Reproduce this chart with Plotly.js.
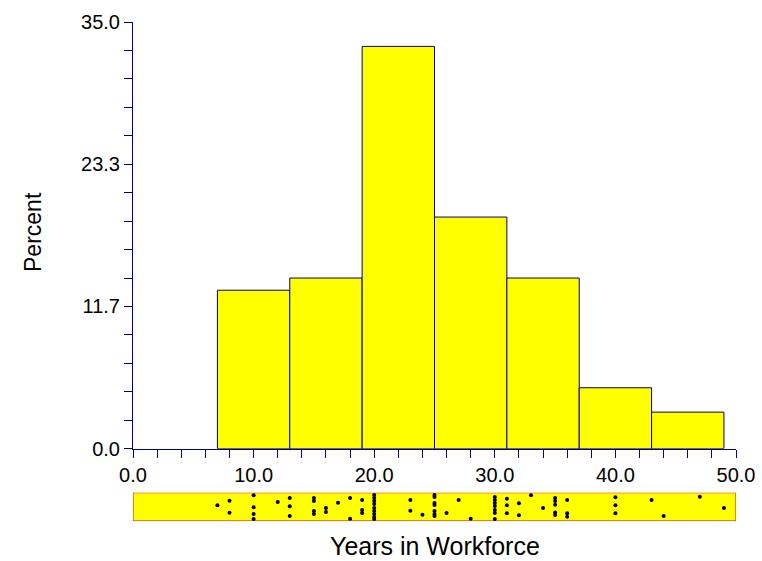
<!DOCTYPE html>
<html>
<head>
<meta charset="utf-8">
<script src="https://cdn.plot.ly/plotly-3.0.1.min.js"></script>
<style>html,body{margin:0;padding:0;background:#fff;}#chart{width:762px;height:561px;}</style>
</head>
<body>
<div id="chart"></div>
<script>
// Histogram bins (years) and percentages
const binCenters = [10, 16, 22, 28, 34, 40, 46];
const binWidth = 6;
const percents = [13.0, 14.0, 33.0, 19.0, 14.0, 5.0, 3.0];

// Dot plot (individual observations) with vertical jitter fraction within the strip
const stripYears = [7, 8, 8, 10, 10, 10, 10, 12, 13, 13, 13,
  15, 15, 15, 15, 16, 16, 17, 18, 18, 19, 19, 19,
  20, 20, 20, 20, 20, 20, 20, 20, 20, 23, 23, 24,
  25, 25, 25, 25, 25, 25, 25, 26, 27, 28,
  30, 30, 30, 30, 30, 30, 30, 31, 31, 31, 32, 32, 33, 34,
  35, 35, 35, 35, 35, 36, 36, 36, 40, 40, 40, 43, 44, 47, 49];
const stripJitter = [0.555, 0.717, 0.293, 0.908, 0.484, 0.247, 0.071, 0.671, 0.813, 0.519, 0.177,
  0.813, 0.707, 0.353, 0.247, 0.459, 0.318, 0.647, 0.813, 0.081, 0.742, 0.389, 0.283,
  0.919, 0.813, 0.707, 0.601, 0.459, 0.353, 0.247, 0.141, 0.071, 0.742, 0.364, 0.223,
  0.919, 0.848, 0.636, 0.565, 0.353, 0.247, 0.177, 0.283, 0.742, 0.081,
  0.848, 0.742, 0.636, 0.530, 0.389, 0.283, 0.071, 0.788, 0.555, 0.272, 0.625, 0.201, 0.908, 0.459,
  0.813, 0.707, 0.576, 0.300, 0.212, 0.742, 0.272, 0.152, 0.837, 0.555, 0.272, 0.742, 0.177, 0.859, 0.459];

const xTitle = "Years in Workforce";
const yTitle = "Percent";

const navy = '#000080';
const font = 'Arial, "Liberation Sans", sans-serif';

const traces = [
  {
    type: 'bar',
    x: binCenters,
    y: percents,
    width: binCenters.map(() => binWidth),
    marker: {color: '#FFFF00', line: {color: navy, width: 1}},
    xaxis: 'x', yaxis: 'y',
    hoverinfo: 'none'
  },
  {
    type: 'scatter',
    mode: 'markers',
    x: stripYears,
    y: stripJitter,
    marker: {color: '#000000', size: 4, symbol: 'circle'},
    xaxis: 'x', yaxis: 'y2',
    hoverinfo: 'none'
  }
];

const layout = {
  width: 762, height: 561,
  margin: {l: 133, r: 26, t: 22, b: 40},
  paper_bgcolor: '#ffffff',
  plot_bgcolor: 'rgba(0,0,0,0)',
  showlegend: false,
  bargap: 0,
  font: {family: font, size: 20, color: '#000000'},
  xaxis: {
    range: [0, 50], anchor: 'y',
    tickmode: 'linear', tick0: 0, dtick: 10, tickformat: '.1f',
    ticks: 'outside', ticklen: 8, tickcolor: navy, tickwidth: 1,
    minor: {tickmode: 'linear', tick0: 0, dtick: 2, ticks: 'outside', ticklen: 8, tickcolor: navy, tickwidth: 1, showgrid: false},
    showline: true, linecolor: navy, linewidth: 1,
    showgrid: false, zeroline: false,
    tickfont: {family: font, size: 20, color: '#000000'}
  },
  yaxis: {
    domain: [0.1449, 1], anchor: 'x',
    range: [0, 35.0001],
    tickmode: 'linear', tick0: 0, dtick: 35 / 3, tickformat: '.1f',
    ticks: 'outside', ticklen: 8, tickcolor: navy, tickwidth: 1,
    minor: {tickmode: 'linear', tick0: 0, dtick: 35 / 15, ticks: 'outside', ticklen: 8, tickcolor: navy, tickwidth: 1, showgrid: false},
    showline: true, linecolor: navy, linewidth: 1,
    showgrid: false, zeroline: false,
    tickfont: {family: font, size: 20, color: '#000000'}
  },
  yaxis2: {
    domain: [0, 0.0567], anchor: 'x', range: [0, 1],
    visible: false, showgrid: false, zeroline: false
  },
  shapes: [
    {type: 'rect', xref: 'x', yref: 'y2', x0: 0, x1: 50, y0: 0, y1: 1,
     fillcolor: '#FFFF00', line: {color: '#FF0000', width: 1}, layer: 'below'}
  ],
  annotations: [
    {text: xTitle, xref: 'paper', yref: 'paper', x: 0.5, y: -0.05, xanchor: 'center', yanchor: 'middle',
     showarrow: false, borderpad: 0, font: {family: font, size: 25, color: '#000000'}},
    {text: yTitle, xref: 'paper', yref: 'paper', x: -0.166, y: 0.579, xanchor: 'center', yanchor: 'middle',
     textangle: -90, showarrow: false, font: {family: font, size: 23, color: '#000000'}}
  ]
};

Plotly.newPlot('chart', traces, layout, {staticPlot: true, displayModeBar: false});
</script>
</body>
</html>
